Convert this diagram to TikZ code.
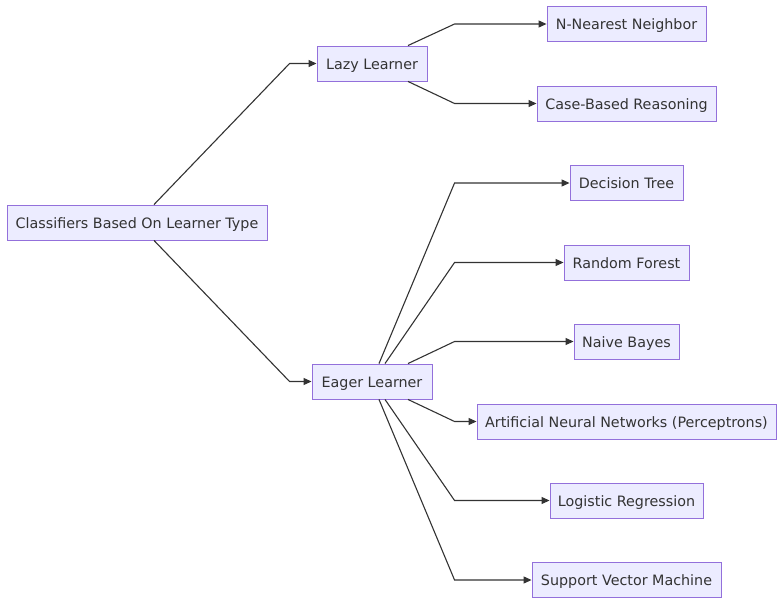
\documentclass[tikz,border=0pt]{standalone}
\usepackage{fontspec}
\setmainfont{DejaVu Sans}
\usetikzlibrary{arrows.meta,calc}
\definecolor{boxfill}{HTML}{ECECFF}
\definecolor{boxline}{HTML}{9370DB}
\definecolor{edgecol}{HTML}{333333}
\definecolor{txt}{HTML}{333333}
\begin{document}
\begin{tikzpicture}[x=1pt,y=-1pt,
  box/.style={draw=boxline,fill=boxfill,line width=0.9pt,minimum height=35pt,inner sep=0pt,
    text height=14.6pt,text depth=3pt,
    font=\fontsize{14.3pt}{16pt}\selectfont,text=txt},
  edge/.style={draw=edgecol,line width=1.1pt,-{Triangle[length=8pt,width=7pt]}}]
\useasboundingbox (0,0) rectangle (784,605);
\node[box,minimum width=260pt] (root) at (137,222.5) {Classifiers Based On Learner Type};
\node[box,minimum width=110pt] (lazy) at (372,63.5) {Lazy Learner};
\node[box,minimum width=120pt] (eager) at (372,381.5) {Eager Learner};
\node[box,minimum width=159pt] (nn) at (626.5,24) {N-Nearest Neighbor};
\node[box,minimum width=179pt] (cbr) at (626.5,103.5) {Case-Based Reasoning};
\node[box,minimum width=113pt] (dt) at (626.5,183) {Decision Tree};
\node[box,minimum width=125pt] (rf) at (626.5,262.5) {Random Forest};
\node[box,minimum width=105pt] (nb) at (626.5,341.5) {Naive Bayes};
\node[box,minimum width=299pt] (ann) at (626.5,421.5) {Artificial Neural Networks (Perceptrons)};
\node[box,minimum width=153pt] (lr) at (626.5,500.5) {Logistic Regression};
\node[box,minimum width=189pt] (svm) at (626.5,580) {Support Vector Machine};
\draw[edge] ([xshift=17pt]root.north) -- ([xshift=-27pt]lazy.west) -- (lazy.west);
\draw[edge] ([xshift=17pt]root.south) -- ([xshift=-22pt]eager.west) -- (eager.west);
\draw[edge] ([xshift=36pt]lazy.north) -- ([xshift=-92pt]nn.west) -- (nn.west);
\draw[edge] ([xshift=36pt]lazy.south) -- ([xshift=-82pt]cbr.west) -- (cbr.west);
\draw[edge] ([xshift=7pt]eager.north) -- ([xshift=-115pt]dt.west) -- (dt.west);
\draw[edge] ([xshift=13pt]eager.north) -- ([xshift=-109pt]rf.west) -- (rf.west);
\draw[edge] ([xshift=36pt]eager.north) -- ([xshift=-119pt]nb.west) -- (nb.west);
\draw[edge] ([xshift=36pt]eager.south) -- ([xshift=-22pt]ann.west) -- (ann.west);
\draw[edge] ([xshift=13pt]eager.south) -- ([xshift=-95pt]lr.west) -- (lr.west);
\draw[edge] ([xshift=7pt]eager.south) -- ([xshift=-77pt]svm.west) -- (svm.west);
\end{tikzpicture}
\end{document}
